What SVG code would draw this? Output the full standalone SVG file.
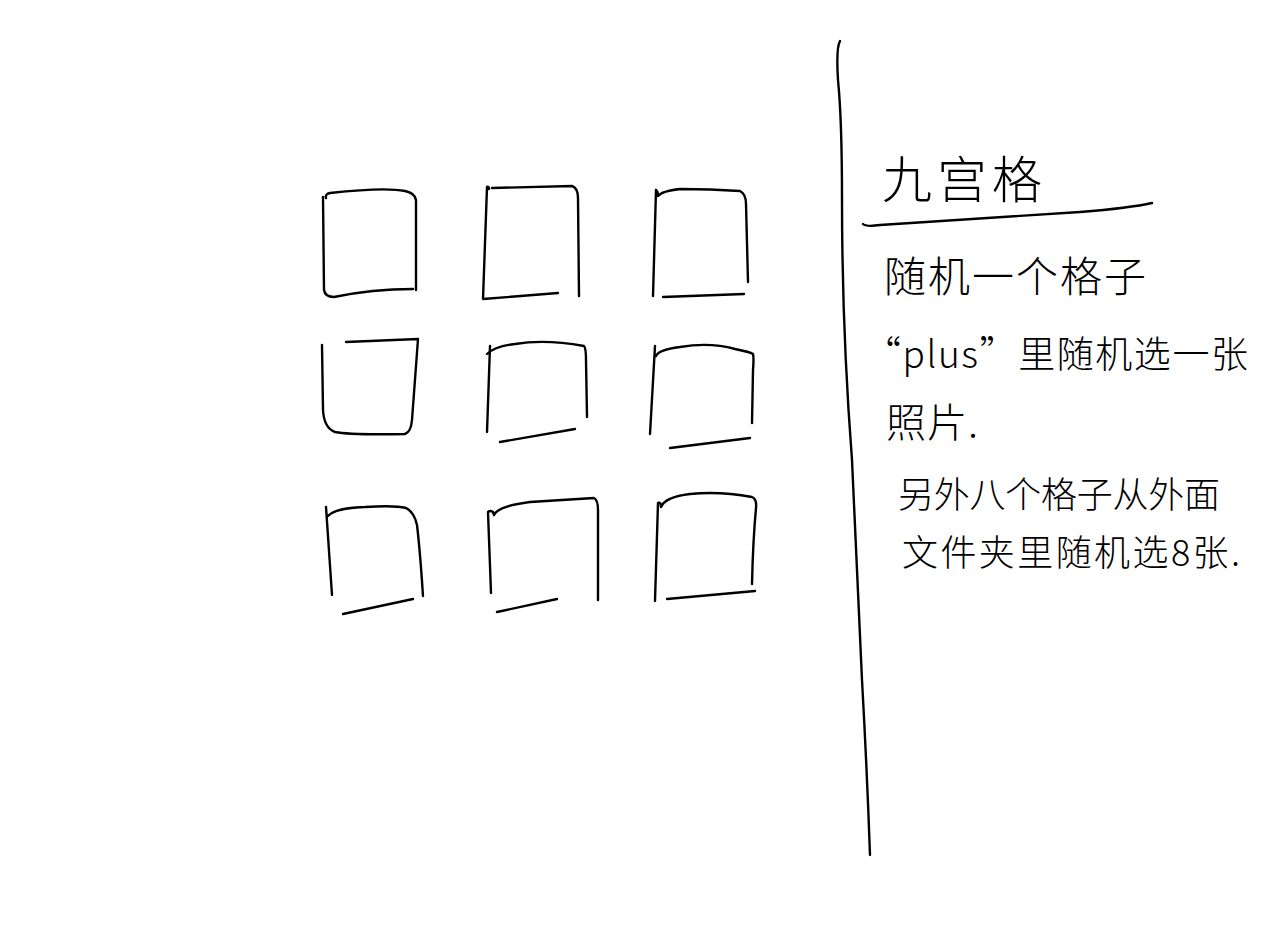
<svg xmlns="http://www.w3.org/2000/svg" width="1269" height="952" viewBox="0 0 1269 952">
<style>
.s{fill:none;stroke:#000;stroke-width:2.4;stroke-linecap:round;stroke-linejoin:round}
.t{font-family:"Noto Sans CJK SC","Noto Sans",sans-serif;fill:#000;font-weight:300}
</style>
<rect width="1269" height="952" fill="#fff"/>
<g id="grid">
<g id="cell1"><path class="s" d="M323,197 L324,290 Q325,297 334,297 Q372,289 413,289 M416,290 L416,200 Q415,193 405,191 Q385,187 330,193 Q325,194 326,198"/></g>
<g id="cell2"><path class="s" d="M487,187 Q489,186 489,189 M487,187 L483,299 L558,293 M492,188 L572,186 Q578,188 578,198 L579,296"/></g>
<g id="cell3"><path class="s" d="M656,190 L653,296 M656,190 Q658,191 658,196 Q662,191 680,189 Q710,189 740,191 Q746,194 746,204 L748,282 M663,297 L744,294"/></g>
<g id="cell4"><path class="s" d="M322,345 L323,410 Q324,428 335,432 Q350,435 405,434 Q411,432 412,420 L418,339 L346,342"/></g>
<g id="cell5"><path class="s" d="M490,346 L487,432 M487,354 Q495,346 515,344 Q545,339 584,346 Q586,348 586,360 L587,417 M500,442 L575,429"/></g>
<g id="cell6"><path class="s" d="M655,346 L650,434 M656,356 Q658,350 680,347 Q710,342 735,349 Q750,352 753,354 Q754,358 753,370 L752,423 M670,448 L750,438"/></g>
<g id="cell7"><path class="s" d="M326,507 L332,595 M328,516 Q335,508 365,507 Q395,505 406,508 Q414,512 417,525 Q420,550 423,596 M343,614 L413,599"/></g>
<g id="cell8"><path class="s" d="M488,512 L491,593 M488,512 Q490,510 493,512 L494,515 Q498,506 530,502 L594,498 Q598,500 598,510 L598,600 M497,612 L557,599"/></g>
<g id="cell9"><path class="s" d="M658,503 L655,601 M658,503 Q661,502 661,507 Q665,497 690,494 Q720,491 752,497 Q757,499 756,508 Q753,540 752,584 M667,599 L755,591"/></g>
</g>
<g id="connectors">
<path class="s" d="M840,41 Q836,48 838,80 Q842,120 842,200 Q842,330 852,460 Q858,600 862,680 Q867,770 870,855"/>
<path class="s" d="M863,224 Q866,227 880,225 Q1000,217 1080,212 Q1130,208 1152,203"/>
</g>
<g id="notes">
<text class="t" x="882" y="198" font-size="50" textLength="160" lengthAdjust="spacing">九宫格</text>
<text class="t" x="884" y="292" font-size="42" textLength="262" lengthAdjust="spacing">随机一个格子</text>
<text class="t" x="864" y="368" font-size="37" textLength="384" lengthAdjust="spacing">“plus”里随机选一张</text>
<text class="t" x="886" y="437" font-size="40" textLength="92" lengthAdjust="spacing">照片.</text>
<text class="t" x="898" y="508" font-size="36" textLength="322" lengthAdjust="spacing">另外八个格子从外面</text>
<text class="t" x="902" y="566" font-size="36" textLength="338" lengthAdjust="spacing">文件夹里随机选8张.</text>
</g>
</svg>
